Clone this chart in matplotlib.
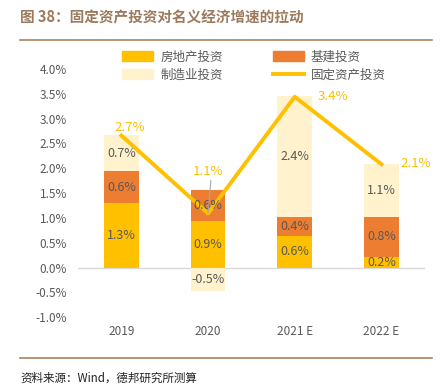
import numpy as np
import matplotlib
matplotlib.use('Agg')
import matplotlib.pyplot as plt
from matplotlib.lines import Line2D

plt.rcParams['font.family'] = ['Noto Sans CJK SC', 'DejaVu Sans']

# 数据
years = ['2019', '2020', '2021 E', '2022 E']
real_estate = [1.30, 0.94, 0.64, 0.22]     # 房地产投资
infra = [0.64, 0.63, 0.37, 0.79]           # 基建投资
manufacturing = [0.72, -0.48, 2.44, 1.07]  # 制造业投资
total = [2.66, 1.09, 3.44, 2.08]           # 固定资产投资
y_ticks = [-1.0, -0.5, 0.0, 0.5, 1.0, 1.5, 2.0, 2.5, 3.0, 3.5, 4.0]

c_re = '#FFC000'
c_inf = '#ED7D31'
c_mfg = '#FFF2CC'
c_line = '#FFC000'
c_txt = '#595959'

fig = plt.figure(figsize=(4.43, 3.92), dpi=100)
ax = fig.add_axes([0.176, 0.191, 0.783, 0.633])

x = np.arange(len(years))
w = 0.4
re = np.array(real_estate)
inf = np.array(infra)
mfg = np.array(manufacturing)

ax.bar(x, re, w, color=c_re, zorder=2)
ax.bar(x, inf, w, bottom=re, color=c_inf, zorder=2)
mfg_bottom = np.where(mfg >= 0, re + inf, 0)
ax.bar(x, mfg, w, bottom=mfg_bottom, color=c_mfg, zorder=2)
ax.plot(x, total, color=c_line, lw=2.8, zorder=3)

# 柱内标签
for i in range(len(x)):
    ax.text(x[i], re[i] / 2, f'{re[i]:.1f}%', ha='center', va='center',
            fontsize=9, color=c_txt, zorder=4)
    ax.text(x[i], re[i] + inf[i] / 2, f'{inf[i]:.1f}%', ha='center', va='center',
            fontsize=9, color=c_txt, zorder=4)
    ax.text(x[i], mfg_bottom[i] + mfg[i] / 2, f'{mfg[i]:.1f}%', ha='center', va='center',
            fontsize=9, color=c_txt, zorder=4)

# 折线标签
ax.text(x[0] + 0.1, total[0] + 0.04, f'{total[0]:.1f}%', ha='center', va='bottom',
        fontsize=9.5, color=c_line, zorder=4)
ax.annotate(f'{total[1]:.1f}%', xy=(x[1], total[1]), xytext=(x[1], total[1] + 0.72),
            ha='center', va='bottom', fontsize=9.5, color=c_line, zorder=4,
            arrowprops=dict(arrowstyle='-', color='#A6A6A6', lw=0.8,
                            shrinkA=0, shrinkB=0, relpos=(0.6, 0)))
ax.text(x[2] + 0.26, total[2], f'{total[2]:.1f}%', ha='left', va='center',
        fontsize=9.5, color=c_line, zorder=4)
ax.text(x[3] + 0.22, total[3] + 0.02, f'{total[3]:.1f}%', ha='left', va='center',
        fontsize=9.5, color=c_line, zorder=4)

ax.set_xlim(-0.5, 3.5)
ax.set_ylim(-1.0, 4.0)
ax.set_yticks(y_ticks)
ax.set_yticklabels([f'{v:.1f}%' for v in y_ticks], fontsize=8.5, color=c_txt)
ax.set_xticks(x)
ax.set_xticklabels(years, fontsize=8.5, color=c_txt)
ax.tick_params(length=0, pad=8)
ax.tick_params(axis='x', pad=6)
for s in ax.spines.values():
    s.set_visible(False)
ax.axhline(0, color='#D9D9D9', lw=1, zorder=1)

# 图例（按列填充，所以顺序调整为行优先显示）
h_re = plt.Rectangle((0, 0), 1, 1, color=c_re)
h_inf = plt.Rectangle((0, 0), 1, 1, color=c_inf)
h_mfg = plt.Rectangle((0, 0), 1, 1, color=c_mfg)
h_line = Line2D([0], [0], color=c_line, lw=2.8)
handles = [h_re, h_mfg, h_inf, h_line]
labels = ['房地产投资', '制造业投资', '基建投资', '固定资产投资']
fig.legend(handles, labels, ncol=2, loc='upper left', bbox_to_anchor=(0.25, 0.90),
           frameon=False, fontsize=9, labelcolor=c_txt, columnspacing=4.0,
           handlelength=2.5, handleheight=0.9, handletextpad=0.55, labelspacing=0.4)

# 标题和来源
fig.text(0.045, 0.955, '图 38：固定资产投资对名义经济增速的拉动', fontsize=10.5,
         fontweight='bold', color='#9C7A5B', va='center')
fig.add_artist(Line2D([0.045, 0.975], [0.897, 0.897], color='#A9825F', lw=1.2))
fig.add_artist(Line2D([0.045, 0.975], [0.088, 0.088], color='#A9825F', lw=1.2))
fig.text(0.045, 0.035, '资料来源：Wind，德邦研究所测算', fontsize=8.3, color='#222222',
         va='center')

fig.savefig('out.png', dpi=100)
